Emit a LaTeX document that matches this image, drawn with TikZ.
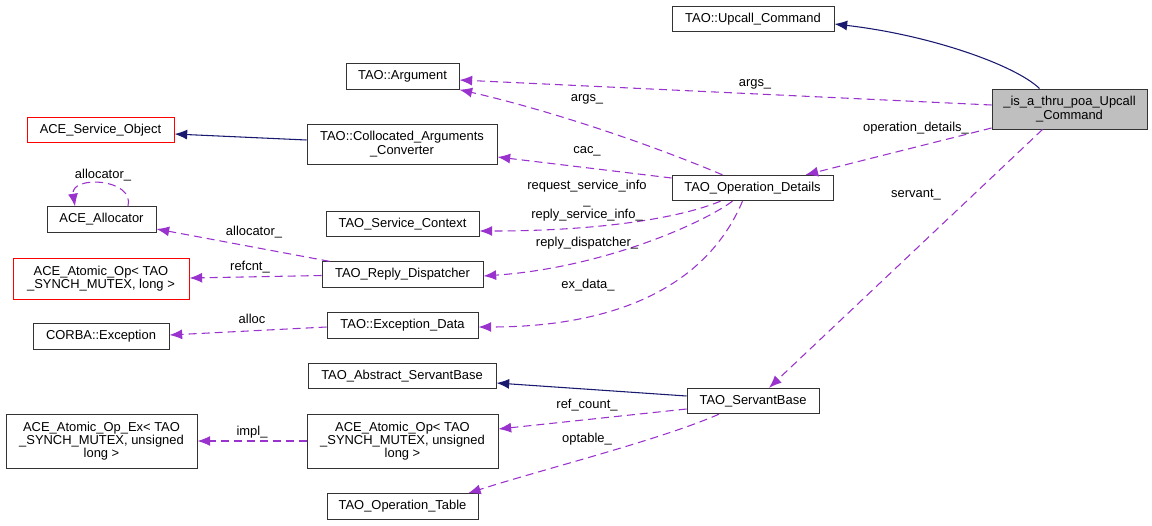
\documentclass[tikz,border=0pt]{standalone}
\usepackage{fontspec}
\setmainfont{Liberation Sans}
\usetikzlibrary{arrows.meta,calc}

\definecolor{edgepurple}{HTML}{9A32CD}
\definecolor{edgenavy}{HTML}{191970}
\definecolor{boxgray}{HTML}{BFBFBF}

\tikzset{
  cls/.style={draw=black!80, line width=0.75pt, fill=white, inner sep=0pt,
    align=center, font=\fontsize{9.7}{10}\selectfont, minimum height=19pt},
  redcls/.style={cls, draw=red},
  member/.style={edgepurple, line width=0.8pt, dash pattern=on 6pt off 3.75pt,
    -{Latex[length=9.5pt,width=7.5pt]}},
  inherit/.style={edgenavy, line width=0.8pt, -{Latex[length=9.5pt,width=7.5pt]}},
  lbl/.style={font=\fontsize{9.7}{10.8}\selectfont, align=center, inner sep=0pt, text=black}
}

\begin{document}
\begin{tikzpicture}[x=0.75pt,y=-0.75pt]
\path[fill=white] (0,0) rectangle (1152,525);

% Classes
\node[cls, minimum width=121.5pt] (upcall) at (753,19) {TAO::Upcall\_Command};
\node[cls, fill=boxgray, minimum width=116.25pt, minimum height=30pt] (isathru) at (1069.5,109) {\_is\_a\_thru\_poa\_Upcall\\\_Command};
\node[cls, minimum width=84.75pt] (argument) at (402.5,76.5) {TAO::Argument};
\node[redcls, minimum width=110.25pt] (serviceobj) at (100.5,130) {ACE\_Service\_Object};
\node[cls, minimum width=142.5pt, minimum height=30pt] (collocated) at (402,144) {TAO::Collocated\_Arguments\\\_Converter};
\node[cls, minimum width=120.75pt] (opdetails) at (752.5,188) {TAO\_Operation\_Details};
\node[cls, minimum width=81.75pt] (allocator) at (101.5,219.5) {ACE\_Allocator};
\node[cls, minimum width=114.75pt] (servicectx) at (402.5,224) {TAO\_Service\_Context};
\node[redcls, minimum width=132pt, minimum height=30.75pt] (atomiclong) at (101,278.5) {ACE\_Atomic\_Op< TAO\\\_SYNCH\_MUTEX, long >};
\node[cls, minimum width=120.75pt] (replydisp) at (402.5,274.5) {TAO\_Reply\_Dispatcher};
\node[cls, minimum width=113.25pt] (exceptiondata) at (402.5,325.5) {TAO::Exception\_Data};
\node[cls, minimum width=102pt] (corbaexc) at (101,336.5) {CORBA::Exception};
\node[cls, minimum width=141pt] (abstractsb) at (402,376) {TAO\_Abstract\_ServantBase};
\node[cls, minimum width=99pt] (servantbase) at (753,401) {TAO\_ServantBase};
\node[cls, minimum width=143.25pt, minimum height=40.5pt] (atomicex) at (101.5,441) {ACE\_Atomic\_Op\_Ex< TAO\\\_SYNCH\_MUTEX, unsigned\\long >};
\node[cls, minimum width=143.25pt, minimum height=40.5pt] (atomicunsigned) at (402.5,441) {ACE\_Atomic\_Op< TAO\\\_SYNCH\_MUTEX, unsigned\\long >};
\node[cls, minimum width=113.25pt] (optable) at (402.5,506.5) {TAO\_Operation\_Table};

% Inheritance
\draw[inherit] ($(isathru.north)+(-30,0)$) .. controls (1015,65) and (930,35) .. ($(upcall.east)+(0,5)$);
\draw[inherit] ($(collocated.west)+(0,-4)$) -- ($(serviceobj.east)+(0,4)$);
\draw[inherit] ($(servantbase.west)+(0,-5)$) -- ($(abstractsb.east)+(0,7)$);

% Members of _is_a_thru_poa_Upcall_Command
\draw[member] ($(isathru.west)+(0,-4)$) -- ($(argument.east)+(0,3.5)$)
  node[lbl] at (755,84) {args\_};
\draw[member] ($(isathru.west)+(0,19)$) -- ($(opdetails.north)+(53,0)$)
  node[lbl] at (916,128) {operation\_details\_};
\draw[member] ($(isathru.south)+(-27,0)$) -- ($(servantbase.north)+(16,0)$)
  node[lbl] at (916,195) {servant\_};

% Members of TAO_Operation_Details
\draw[member] ($(opdetails.north)+(-30,0)$) .. controls (640,140) and (540,108) .. (argument.south east)
  node[lbl] at (587,99) {args\_};
\draw[member] ($(opdetails.west)+(0,-10)$) -- ($(collocated.east)+(0,13)$)
  node[lbl] at (587,151) {cac\_};
\draw[member] ($(opdetails.south)+(-32,0)$) .. controls (680,218) and (600,231) .. ($(servicectx.east)+(0,7)$)
  node[lbl] at (587,201) {request\_service\_info\\\_\\reply\_service\_info\_};
\draw[member] ($(opdetails.south)+(-20,0)$) .. controls (700,225) and (600,268) .. ($(replydisp.east)+(0,1.5)$)
  node[lbl] at (587,243) {reply\_dispatcher\_};
\draw[member] ($(opdetails.south)+(-10,0)$) .. controls (705,290) and (610,327) .. ($(exceptiondata.east)+(0,1.5)$)
  node[lbl] at (588,285) {ex\_data\_};

% Members of the left column
\draw[member] ($(allocator.north)+(26.5,0)$) .. controls (135,178) and (70,175) .. ($(allocator.north)+(-26.5,0)$)
  node[lbl] at (103,175) {allocator\_};
\draw[member] ($(replydisp.north west)+(8,0)$) -- ($(allocator.east)+(0,9.5)$)
  node[lbl] at (254,232) {allocator\_};
\draw[member] ($(replydisp.west)+(0,1)$) -- ($(atomiclong.east)+(0,-0.5)$)
  node[lbl] at (250,267) {refcnt\_};
\draw[member] ($(exceptiondata.west)+(0,1.5)$) -- ($(corbaexc.east)+(0,-1.5)$)
  node[lbl] at (252,319) {alloc};

% Members of TAO_ServantBase
\draw[member] ($(servantbase.west)+(0,8)$) -- ($(atomicunsigned.east)+(0,-12)$)
  node[lbl] at (587,405) {ref\_count\_};
\draw[member] ($(servantbase.south)+(-34,0)$) .. controls (660,440) and (540,470) .. ($(optable.north)+(65.5,0)$)
  node[lbl] at (587,439) {optable\_};
\draw[member] (atomicunsigned.west) -- (atomicex.east)
  node[lbl] at (252,432) {impl\_};
\end{tikzpicture}
\end{document}
